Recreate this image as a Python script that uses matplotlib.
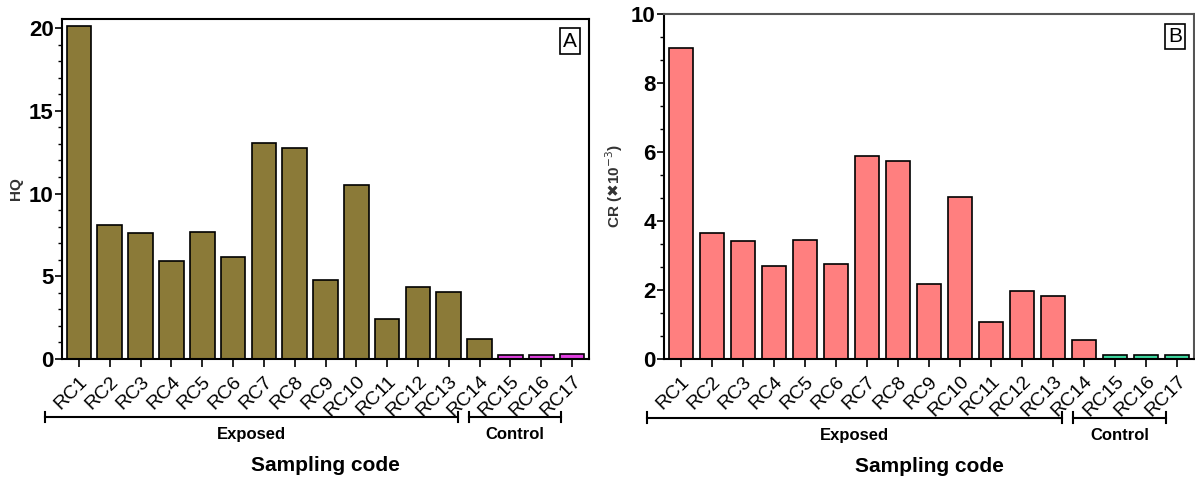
import numpy as np
import matplotlib
matplotlib.use("Agg")
from matplotlib import pyplot as plt
from matplotlib.ticker import MultipleLocator
import matplotlib.transforms as mtransforms

plt.rcParams["font.family"] = ["Liberation Sans", "DejaVu Sans"]
plt.rcParams["mathtext.fontset"] = "dejavusans"

codes = [f"RC{i}" for i in range(1, 18)]
hq = [20.1, 8.12, 7.62, 5.95, 7.70, 6.17, 13.06, 12.78, 4.80, 10.52,
      2.40, 4.37, 4.07, 1.23, 0.22, 0.22, 0.30]
cr = [9.02, 3.66, 3.43, 2.69, 3.46, 2.76, 5.89, 5.75, 2.17, 4.70,
      1.06, 1.96, 1.82, 0.56, 0.11, 0.11, 0.11]
n_exposed = 14

fig = plt.figure(figsize=(11.95, 4.79), dpi=100)
ax1 = fig.add_axes([62 / 1195, 120 / 479, 527 / 1195, 340 / 479])
ax2 = fig.add_axes([664 / 1195, 120 / 479, 530 / 1195, 345 / 479])


def draw(ax, vals, c_exp, c_ctl, ylim, major, minor, ylabel, tag, spine_col):
    x = np.arange(len(vals))
    cols = [c_exp] * n_exposed + [c_ctl] * (len(vals) - n_exposed)
    ax.bar(x, vals, width=0.8, color=cols, edgecolor="black", linewidth=1.2, zorder=2)
    ax.set_xlim(-0.55, len(vals) - 0.45)
    ax.set_ylim(*ylim)
    ax.yaxis.set_major_locator(MultipleLocator(major))
    ax.yaxis.set_minor_locator(MultipleLocator(minor))
    ax.set_xticks(x)
    ax.set_xticklabels(codes, rotation=45, ha="right", rotation_mode="anchor", fontsize=14)
    ax.tick_params(axis="y", which="major", labelsize=16, length=5, width=1.2, pad=1)
    ax.tick_params(axis="y", which="minor", length=3, width=1)
    ax.tick_params(axis="x", length=6, width=1.2, pad=4)
    for lab in ax.get_yticklabels():
        lab.set_fontweight("bold")
    for s in ax.spines.values():
        s.set_color(spine_col)
        s.set_linewidth(1.5)
    ax.spines["left"].set_color("black")
    ax.spines["bottom"].set_color("black")
    ax.set_ylabel(ylabel, fontsize=11, fontweight="bold", color="#333333", labelpad=4)
    ax.text(0.964, 0.935, tag, transform=ax.transAxes, ha="center", va="center", fontsize=15,
            bbox=dict(boxstyle="square,pad=0.15", fc="white", ec="black", lw=1.2))

    tr = mtransforms.blended_transform_factory(ax.transData, ax.transAxes)
    for x0, x1, lab in [(-1.1, 12.3, "Exposed"), (12.65, 15.65, "Control")]:
        ax.plot([x0, x1], [-0.17, -0.17], color="black", lw=1.5, transform=tr, clip_on=False)
        for xe in (x0, x1):
            ax.plot([xe, xe], [-0.185, -0.155], color="black", lw=1.5, transform=tr, clip_on=False)
        ax.text((x0 + x1) / 2, -0.2, lab, transform=tr, ha="center", va="top",
                fontsize=12, fontweight="bold")
    ax.text(0.5, -0.285, "Sampling code", transform=ax.transAxes, ha="center", va="top",
            fontsize=15, fontweight="bold")


draw(ax1, hq, "#8b7a38", "#e040e0", (0, 20.55), 5, 1, "HQ", "A", "black")
draw(ax2, cr, "#ff7f7f", "#3fd9a0", (0, 10), 2, 2 / 3, r"CR ($✖$10$^{-3}$)", "B", "#555555")

fig.savefig("out.png", dpi=100)
